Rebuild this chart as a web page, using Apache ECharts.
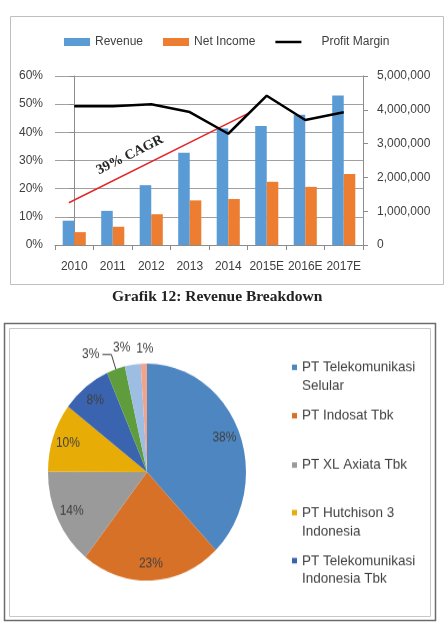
<!DOCTYPE html>
<html>
<head>
<meta charset="utf-8">
<script src="https://cdn.jsdelivr.net/npm/echarts@6/dist/echarts.min.js"></script>
<style>
html, body { margin: 0; padding: 0; background: #fff; }
#main { position: absolute; left: 0; top: 0; width: 445px; height: 622px; }
/* the source picture is stretched vertically, so the pie is an ellipse */
#pie { position: absolute; left: 0; top: 323px; width: 445px; height: 273px; transform: scaleY(1.096); transform-origin: 0 0; }
</style>
</head>
<body>
<div id="main"></div>
<div id="pie"></div>
<script>
const years = ['2010', '2011', '2012', '2013', '2014', '2015E', '2016E', '2017E']
const revenue = [720000, 1010000, 1770000, 2730000, 3450000, 3520000, 3850000, 4420000]
const netIncome = [380000, 540000, 910000, 1320000, 1360000, 1870000, 1720000, 2100000]
const profitMargin = [49.3, 49.3, 50.0, 47.2, 39.5, 53.0, 44.4, 47.1]
// red CAGR trend line, start and end (x in category units)
const trendX = [-0.14, 4.53]
const trendY = [15.0, 46.8]

const companies = ['PT Telekomunikasi Selular', 'PT Indosat Tbk', 'PT XL Axiata Tbk', 'PT Hutchison 3 Indonesia',
  'PT Telekomunikasi Indonesia Tbk', 'PT Smartfren Telecom Tbk', 'PT Bakrie Telecom Tbk', 'Lainnya']
const shares = [37.8, 22.9, 14.4, 10.2, 8.1, 3.0, 2.6, 1.0]
const legendLabels = ['PT Telekomunikasi\nSelular', 'PT Indosat Tbk', 'PT XL Axiata Tbk', 'PT Hutchison 3\nIndonesia', 'PT Telekomunikasi\nIndonesia Tbk']
const pieColors = ['#4E86C2', '#D87128', '#9A9A9A', '#E8AC06', '#3A64B0', '#5F9C3C', '#9DBDE3', '#F1A38C']

const font = 'Liberation Sans'
const textColor = '#404040'
const axisColor = '#8c8c8c'

const chart = echarts.init(document.getElementById('main'))
chart.setOption({
  animation: false,
  textStyle: { fontFamily: font },
  title: {
    text: 'Grafik 12: Revenue Breakdown',
    left: 112,
    top: 289,
    padding: 0,
    textStyle: { fontFamily: 'Liberation Serif', fontWeight: 'bold', fontSize: 15.5, color: '#222' }
  },
  graphic: [
    { type: 'rect', silent: true, shape: { x: 10.5, y: 16.5, width: 433, height: 268 }, style: { fill: 'none', stroke: '#bfbfbf', lineWidth: 1 } },
    { type: 'rect', silent: true, shape: { x: 4.5, y: 323.5, width: 431, height: 297 }, style: { fill: 'none', stroke: '#6b6b6b', lineWidth: 1.5 } },
    { type: 'rect', silent: true, shape: { x: 9.5, y: 328.5, width: 421, height: 288 }, style: { fill: 'none', stroke: '#c8c8c8', lineWidth: 1 } },
    {
      type: 'text', silent: true, x: 130, y: 155, rotation: 26.5 * Math.PI / 180, z: 10,
      style: { text: '39% CAGR', font: 'bold 14px "Liberation Serif"', fill: '#262626', align: 'center', verticalAlign: 'middle' }
    }
  ],
  legend: {
    left: 64,
    top: 36,
    padding: 0,
    itemWidth: 26,
    itemHeight: 8,
    itemGap: 20,
    textStyle: { fontSize: 12, color: textColor },
    data: [
      { name: 'Revenue', icon: 'rect' },
      { name: 'Net Income', icon: 'rect' },
      { name: 'Profit Margin', icon: 'path://M0,0H26V2.5H0Z', textStyle: { padding: [0, 0, 0, 15] } }
    ]
  },
  grid: { left: 55, top: 76, width: 308, height: 169 },
  xAxis: [{
    type: 'category',
    data: years,
    axisLine: { lineStyle: { color: axisColor } },
    axisTick: { show: true, length: 5, lineStyle: { color: axisColor } },
    axisLabel: { color: textColor, fontSize: 12, margin: 16, interval: 0 }
  }, {
    type: 'value',
    min: -0.5,
    max: 7.5,
    show: false
  }],
  yAxis: [{
    type: 'value',
    min: 0,
    max: 60,
    interval: 10,
    axisLine: { show: true, lineStyle: { color: axisColor } },
    axisTick: { show: true, length: 5, lineStyle: { color: axisColor } },
    axisLabel: { color: textColor, fontSize: 12, margin: 12, formatter: '{value}%' },
    splitLine: { lineStyle: { color: '#a0a0a0' } }
  }, {
    type: 'value',
    min: 0,
    max: 5000000,
    interval: 1000000,
    axisLine: { show: true, lineStyle: { color: axisColor } },
    axisTick: { show: true, length: 5, lineStyle: { color: axisColor } },
    axisLabel: { color: textColor, fontSize: 12, margin: 14, formatter: (v) => v.toLocaleString('en-US') },
    splitLine: { show: false }
  }],
  series: [
    { name: 'Revenue', type: 'bar', yAxisIndex: 1, data: revenue, barWidth: '30%', barGap: '0%', itemStyle: { color: '#5B9BD5' } },
    { name: 'Net Income', type: 'bar', yAxisIndex: 1, data: netIncome, barWidth: '30%', barGap: '0%', itemStyle: { color: '#ED7D31' } },
    {
      name: 'Profit Margin', type: 'line', yAxisIndex: 0, data: profitMargin, symbol: 'none', z: 5,
      lineStyle: { color: '#000', width: 2.5 }, itemStyle: { color: '#000' }
    },
    {
      name: 'CAGR', type: 'line', xAxisIndex: 1, yAxisIndex: 0, symbol: 'none', z: 4,
      data: trendX.map((x, i) => [x, trendY[i]]),
      lineStyle: { color: '#e3262a', width: 1.5 }
    }
  ]
})

// pie
const lineH = 16.8
const legendCenters = [40.4, 84.6, 129.6, 173, 216.8]
const pie = echarts.init(document.getElementById('pie'))
pie.setOption({
  animation: false,
  textStyle: { fontFamily: font },
  legend: legendLabels.map((lab, i) => {
    const twoLines = lab.indexOf('\n') >= 0
    return {
      left: 292,
      // two-line names get an empty first line so the marker sits on the first text line
      top: legendCenters[i] - (twoLines ? 1.5 : 0.5) * lineH,
      padding: 0,
      orient: 'vertical',
      itemWidth: 5,
      itemHeight: 5,
      icon: 'rect',
      formatter: () => (twoLines ? '\n' + lab : lab),
      textStyle: { fontSize: 13.5, color: textColor, lineHeight: lineH },
      data: [companies[i]]
    }
  }),
  series: [{
    type: 'pie',
    radius: 99,
    center: [147, 136],
    startAngle: 90,
    silent: true,
    label: { show: false },
    labelLine: { show: false },
    data: companies.map((n, i) => ({ name: n, value: shares[i], itemStyle: { color: pieColors[i] } }))
  }, {
    type: 'pie',
    radius: [62, 99],
    center: [147, 136],
    startAngle: 90,
    silent: true,
    avoidLabelOverlap: false,
    itemStyle: { color: 'rgba(0,0,0,0)' },
    label: {
      position: 'inside', fontSize: 12, color: textColor,
      formatter: (p) => Math.round(p.value) + '%'
    },
    data: companies.map((n, i) => {
      const item = { name: n, value: shares[i] }
      if (i === 5) {
        item.label = { position: 'outside', distanceToLabelLine: 3 }
        item.labelLine = { show: true, length: 14, length2: 9, lineStyle: { color: textColor, width: 1 } }
      } else if (i === 6) {
        item.label = { position: 'outside', distanceToLabelLine: 0 }
        item.labelLine = { show: false, length: 16, length2: 0 }
      } else if (i === 7) {
        item.label = { position: 'outside', distanceToLabelLine: -10 }
        item.labelLine = { show: false, length: 13, length2: 0 }
      }
      return item
    })
  }]
})
</script>
</body>
</html>
